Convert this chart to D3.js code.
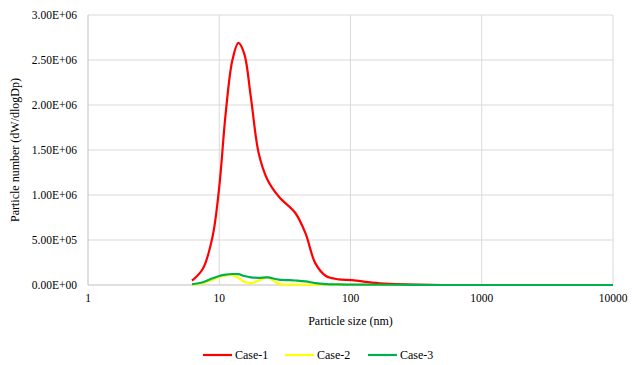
<!DOCTYPE html>
<html>
<head>
<meta charset="utf-8">
<script src="https://cdn.jsdelivr.net/npm/d3@7"></script>
<style>
  body { margin: 0; background: #fff; }
  svg text { font-family: "Liberation Serif", "Times New Roman", serif; fill: #000; }
</style>
</head>
<body>
<div id="chart"></div>
<script>
// particle size bins (nm)
const sizes = [6.2, 7.5, 8.9, 10, 11.2, 12.6, 14, 15.5, 17.4, 20, 23.3, 28.5, 38, 45.5, 54, 65, 81, 103, 146, 200, 300, 500, 1000, 2000, 5000, 10000];
const case1 = [0.048e6, 0.18e6, 0.54e6, 1.09e6, 1.91e6, 2.5e6, 2.69e6, 2.57e6, 2.09e6, 1.46e6, 1.17e6, 0.98e6, 0.80e6, 0.57e6, 0.24e6, 0.1e6, 0.063e6, 0.055e6, 0.026e6, 0.012e6, 0.004e6, 0, 0, 0, 0, 0];
const case2 = [0.004e6, 0.02e6, 0.06e6, 0.09e6, 0.105e6, 0.11e6, 0.08e6, 0.035e6, 0.02e6, 0.05e6, 0.085e6, 0.012e6, 0.006e6, 0.005e6, 0.004e6, 0.003e6, 0.002e6, 0.001e6, 0, 0, 0, 0, 0, 0, 0, 0];
const case3 = [0.008e6, 0.03e6, 0.074e6, 0.1e6, 0.115e6, 0.122e6, 0.12e6, 0.1e6, 0.085e6, 0.08e6, 0.085e6, 0.06e6, 0.05e6, 0.04e6, 0.02e6, 0.01e6, 0.006e6, 0.005e6, 0.004e6, 0.003e6, 0.001e6, 0, 0, 0, 0, 0];
const seriesNames = ['Case-1', 'Case-2', 'Case-3'];
const seriesColors = ['#ff0000', '#ffff00', '#00b050'];
const xTicks = [1, 10, 100, 1000, 10000];
const yTicks = [0, 0.5e6, 1e6, 1.5e6, 2e6, 2.5e6, 3e6];

const width = 633, height = 365;
const margin = { top: 15, right: 20, bottom: 80, left: 88 };
const serif = 'Liberation Serif, Times New Roman, serif';

const svg = d3.select('#chart').append('svg')
  .attr('width', width)
  .attr('height', height);

const x = d3.scaleLog().domain([1, 10000]).range([margin.left, 613]);
const y = d3.scaleLinear().domain([0, 3e6]).range([285, margin.top]);

// gridlines
svg.append('g').selectAll('line').data(yTicks.slice(1)).join('line')
  .attr('x1', x(1)).attr('x2', x(10000))
  .attr('y1', d => y(d)).attr('y2', d => y(d))
  .attr('stroke', '#d9d9d9').attr('stroke-width', 1);
svg.append('g').selectAll('line').data(xTicks.slice(1)).join('line')
  .attr('x1', d => x(d)).attr('x2', d => x(d))
  .attr('y1', y(0)).attr('y2', y(3e6))
  .attr('stroke', '#d9d9d9').attr('stroke-width', 1);

// axis lines
svg.append('line').attr('x1', x(1)).attr('x2', x(1)).attr('y1', y(0)).attr('y2', y(3e6))
  .attr('stroke', '#bfbfbf');
svg.append('line').attr('x1', x(1)).attr('x2', x(10000)).attr('y1', y(0)).attr('y2', y(0))
  .attr('stroke', '#bfbfbf');

// y tick labels, Excel style 0.00E+00
const fmt = d => d3.format('.2e')(d).toUpperCase().replace(/E([+-])(\d)$/, 'E$10$2');
svg.append('g').selectAll('text').data(yTicks).join('text')
  .attr('x', 77).attr('y', d => y(d) + 4)
  .attr('text-anchor', 'end')
  .attr('font-family', serif)
  .attr('font-size', 11.5)
  .text(fmt);

// x tick labels
svg.append('g').selectAll('text').data(xTicks).join('text')
  .attr('x', d => x(d)).attr('y', 302)
  .attr('text-anchor', 'middle')
  .attr('font-family', serif)
  .attr('font-size', 11.5)
  .text(d => d);

// axis titles
svg.append('text').attr('x', (x(1) + x(10000)) / 2).attr('y', 325)
  .attr('text-anchor', 'middle')
  .attr('font-family', serif).attr('font-size', 12)
  .text('Particle size (nm)');
svg.append('text')
  .attr('transform', `translate(19,${(y(0) + y(3e6)) / 2}) rotate(-90)`)
  .attr('text-anchor', 'middle')
  .attr('font-family', serif).attr('font-size', 12)
  .text('Particle number (dW/dlogDp)');

// series lines
const line = d3.line()
  .x(d => x(d[0]))
  .y(d => y(d[1]))
  .curve(d3.curveCatmullRom.alpha(0.5));

const allSeries = [case1, case2, case3];
// red first, then yellow, green on top like the reference
[0, 1, 2].forEach(i => {
  svg.append('path')
    .datum(sizes.map((s, j) => [s, allSeries[i][j]]))
    .attr('d', line)
    .attr('fill', 'none')
    .attr('stroke', seriesColors[i])
    .attr('stroke-width', 2.2)
    .attr('stroke-linejoin', 'round');
});

// legend
const legendX = [203, 285, 368];
const legend = svg.append('g');
seriesNames.forEach((name, i) => {
  legend.append('line')
    .attr('x1', legendX[i]).attr('x2', legendX[i] + 29)
    .attr('y1', 355).attr('y2', 355)
    .attr('stroke', seriesColors[i]).attr('stroke-width', 2.2);
  legend.append('text')
    .attr('x', legendX[i] + 32).attr('y', 359)
    .attr('font-family', serif).attr('font-size', 12)
    .text(name);
});
</script>
</body>
</html>
